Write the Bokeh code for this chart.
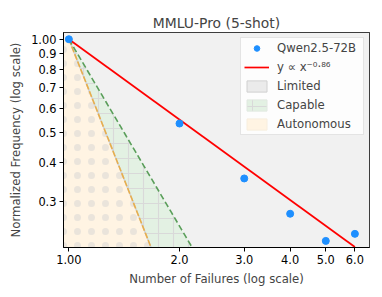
import numpy as np
from bokeh.plotting import figure
from bokeh.models import (Range1d, FixedTicker, CustomJSTickFormatter, Legend, LegendItem)
from bokeh.embed import file_html
from bokeh.resources import INLINE

# ---- data ----
failures = [1, 2, 3, 4, 5, 6]
frequency = [1.0, 0.535, 0.356, 0.274, 0.224, 0.236]
model_name = "Qwen2.5-72B"
fit_exponent = -0.86
capable_exponent = -2.0
autonomous_exponent = -3.0
x_ticks = [1, 2, 3, 4, 5, 6]
y_ticks = [0.3, 0.4, 0.5, 0.6, 0.7, 0.8, 0.9, 1.0]

X0, X1 = 0.967, 6.575
Y0, Y1 = 0.2133, 1.051

FONT = "DejaVu Sans"

p = figure(x_axis_type="log", y_axis_type="log",
           x_range=Range1d(X0, X1), y_range=Range1d(Y0, Y1),
           frame_width=306, frame_height=215,
           min_border_left=63, min_border_right=13, min_border_top=32, min_border_bottom=50,
           output_backend="svg", toolbar_location=None,
           title="MMLU-Pro (5-shot)")
p.title.align = "center"
p.title.text_font = FONT
p.title.text_font_size = "13.9px"
p.title.text_font_style = "normal"
p.title.standoff = 4
p.background_fill_color = "white"
p.border_fill_color = "white"
p.outline_line_color = "black"
p.outline_line_width = 1
p.outline_line_alpha = 1
p.grid.visible = False

def curve(k, n=60):
    xe = Y0 ** (1.0 / k)
    xs = np.geomspace(1.0, xe, n)
    return list(xs), list(xs ** k)

cx2, cy2 = curve(capable_exponent)
cx3, cy3 = curve(autonomous_exponent)

# Limited region (everything above x^-2)
lim_x = cx2 + [X1, X1, X0, X0]
lim_y = cy2 + [Y0, Y1, Y1, 1.0]
r_lim = p.patch(lim_x, lim_y, fill_color="#f1f1f1", line_color=None)

# Capable region between x^-3 and x^-2
cap_x = cx2 + cx3[::-1]
cap_y = cy2 + cy3[::-1]
r_cap = p.patch(cap_x, cap_y, fill_color="#e3f1e3", line_color=None,
                hatch_pattern="+", hatch_color="#d9d9d9", hatch_scale=15, hatch_weight=1.2)

# Autonomous region below x^-3
aut_x = cx3 + [X0, X0]
aut_y = cy3 + [Y0, 1.0]
r_aut = p.patch(aut_x, aut_y, fill_color="#fff4e3", line_color=None,
                hatch_pattern=".", hatch_color="#d0d0d0", hatch_alpha=0.45,
                hatch_scale=14, hatch_weight=1.0)

# boundary lines
p.line(cx3, cy3, line_color="#cfd3d8", line_width=1.5)
p.line(cx3, cy3, line_color="#e8ae4c", line_width=1.6, line_dash="6 2")
p.line(cx2, cy2, line_color="#5a9e5a", line_width=1.6, line_dash="6 3")

# fit line
fx = np.array([failures[0], failures[-1]], dtype=float)
r_fit = p.line(list(fx), list(fx ** fit_exponent), line_color="red", line_width=1.7)

r_pts = p.scatter(failures, frequency, size=7, color="#1e8fff")

# legend swatches (placeholder renderers that draw nothing in the plot)
nan = [float("nan")]
lg_lim = p.patch(nan, nan, fill_color="#ebebeb", line_color="#d0d0d0")
lg_cap = p.patch(nan, nan, fill_color="#e3f1e3", line_color="#e0e8e0",
                 hatch_pattern="+", hatch_color="#d9d9d9", hatch_scale=15, hatch_weight=1)
lg_aut = p.patch(nan, nan, fill_color="#fff4e3", line_color="#f7eede")

legend = Legend(items=[
    LegendItem(label=model_name, renderers=[r_pts]),
    LegendItem(label="y \u221d x\u207b\u2070\u00b7\u2078\u2076", renderers=[r_fit]),
    LegendItem(label="Limited", renderers=[lg_lim]),
    LegendItem(label="Capable", renderers=[lg_cap]),
    LegendItem(label="Autonomous", renderers=[lg_aut]),
], location="top_right")
legend.margin = 5
legend.padding = 3
legend.spacing = 5
legend.glyph_height = 14
legend.glyph_width = 25
legend.label_height = 14
legend.label_width = 83
legend.label_standoff = 8
legend.label_text_font = FONT
legend.label_text_font_size = "11.7px"
legend.background_fill_color = "white"
legend.background_fill_alpha = 0.85
legend.border_line_color = "#cccccc"
legend.border_line_width = 1
p.add_layout(legend)

for ax in (p.xaxis[0], p.yaxis[0]):
    ax.major_label_text_font = FONT
    ax.major_label_text_font_size = "11.4px"
    ax.major_label_text_color = "black"
    ax.axis_label_text_font = FONT
    ax.axis_label_text_font_size = "11.7px"
    ax.axis_label_text_font_style = "normal"
    ax.major_tick_in = 0
    ax.major_tick_out = 4
    ax.minor_tick_in = 0
    ax.minor_tick_out = 0
    ax.axis_line_color = "black"
    ax.major_tick_line_color = "black"
    ax.major_label_standoff = 3
    ax.formatter = CustomJSTickFormatter(code="return tick == 1 ? '1.00' : tick.toFixed(1);")

p.xaxis[0].ticker = FixedTicker(ticks=x_ticks, minor_ticks=[])
p.yaxis[0].ticker = FixedTicker(ticks=y_ticks, minor_ticks=[])
p.xaxis[0].axis_label = "Number of Failures (log scale)"
p.yaxis[0].axis_label = "Normalized Frequency (log scale)"
p.xaxis[0].axis_label_standoff = 5
p.yaxis[0].axis_label_standoff = 5

open("out.html", "w").write(file_html(p, INLINE))
